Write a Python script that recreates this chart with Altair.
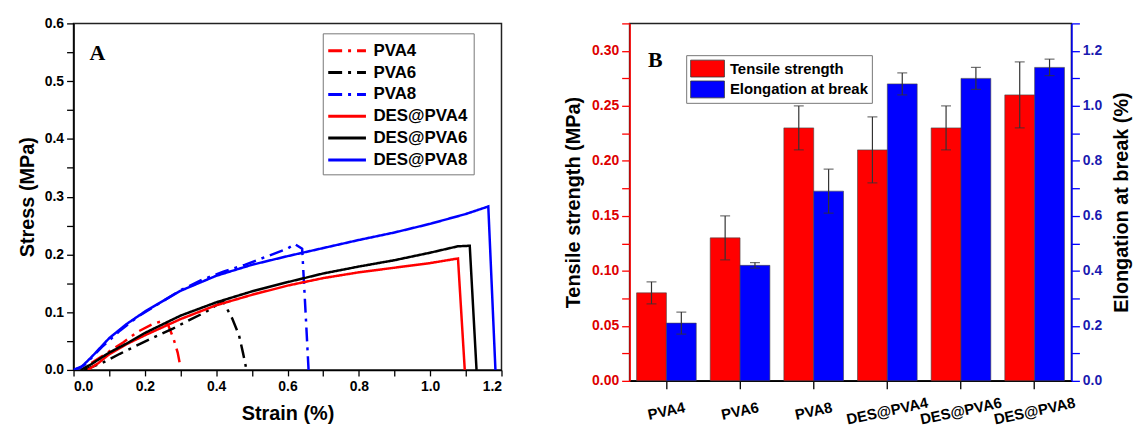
import altair as alt
import pandas as pd

# ---------------- Panel A: stress-strain curves ----------------
series_names = ["PVA4", "PVA6", "PVA8", "DES@PVA4", "DES@PVA6", "DES@PVA8"]

pva4_x = [0.05, 0.09, 0.14, 0.18, 0.22, 0.25, 0.265, 0.28, 0.292, 0.30]
pva4_y = [0.012, 0.028, 0.048, 0.066, 0.079, 0.085, 0.078, 0.055, 0.03, 0.005]

pva6_x = [0.03, 0.08, 0.13, 0.17, 0.22, 0.28, 0.33, 0.37, 0.40, 0.42, 0.445, 0.464, 0.475, 0.485]
pva6_y = [0.0, 0.012, 0.028, 0.04, 0.055, 0.072, 0.088, 0.10, 0.112, 0.118, 0.089, 0.06, 0.03, 0.0]

pva8_x = [0.0, 0.03, 0.08, 0.13, 0.18, 0.24, 0.30, 0.36, 0.42, 0.48, 0.54, 0.60, 0.62, 0.641, 0.648, 0.654, 0.659]
pva8_y = [0.0, 0.008, 0.04, 0.068, 0.092, 0.115, 0.138, 0.156, 0.17, 0.182, 0.196, 0.21, 0.218, 0.21, 0.13, 0.06, 0.0]

des4_x = [0.04, 0.07, 0.10, 0.15, 0.20, 0.30, 0.40, 0.50, 0.60, 0.70, 0.80, 0.90, 1.00, 1.078, 1.097]
des4_y = [0.0, 0.012, 0.027, 0.045, 0.06, 0.088, 0.112, 0.13, 0.146, 0.159, 0.169, 0.177, 0.185, 0.193, 0.0]

des6_x = [0.02, 0.05, 0.10, 0.15, 0.20, 0.30, 0.40, 0.50, 0.60, 0.70, 0.80, 0.90, 1.00, 1.077, 1.111, 1.13]
des6_y = [0.0, 0.01, 0.03, 0.046, 0.064, 0.094, 0.117, 0.136, 0.152, 0.167, 0.179, 0.19, 0.203, 0.214, 0.215, 0.0]

des8_x = [0.0, 0.02, 0.05, 0.10, 0.15, 0.20, 0.30, 0.40, 0.50, 0.60, 0.70, 0.80, 0.90, 1.00, 1.10, 1.163, 1.183]
des8_y = [0.0, 0.004, 0.022, 0.055, 0.08, 0.101, 0.137, 0.163, 0.182, 0.197, 0.211, 0.225, 0.238, 0.253, 0.27, 0.283, 0.0]

curves = [(series_names[0], pva4_x, pva4_y), (series_names[1], pva6_x, pva6_y),
          (series_names[2], pva8_x, pva8_y), (series_names[3], des4_x, des4_y),
          (series_names[4], des6_x, des6_y), (series_names[5], des8_x, des8_y)]
rowsA = []
for name, xs, ys in curves:
    for i, (a, b) in enumerate(zip(xs, ys)):
        rowsA.append({"series": name, "strain": a, "stress": b, "order": i})
dfA = pd.DataFrame(rowsA)

x_ticks_A = [0.0, 0.1, 0.2, 0.3, 0.4, 0.5, 0.6, 0.7, 0.8, 0.9, 1.0, 1.1, 1.2]
y_ticks_A = [0.0, 0.05, 0.1, 0.15, 0.2, 0.25, 0.3, 0.35, 0.4, 0.45, 0.5, 0.55, 0.6]

# ---------------- Panel B: bars ----------------
cats = ["PVA4", "PVA6", "PVA8", "DES@PVA4", "DES@PVA6", "DES@PVA8"]
metrics = ["Tensile strength", "Elongation at break"]
tensile = [0.08, 0.13, 0.23, 0.21, 0.23, 0.26]
tensile_err = [0.01, 0.02, 0.02, 0.03, 0.02, 0.03]
elong = [0.21, 0.42, 0.69, 1.08, 1.10, 1.14]
elong_err = [0.04, 0.01, 0.08, 0.04, 0.04, 0.03]
left_ticks_B = [0.0, 0.025, 0.05, 0.075, 0.1, 0.125, 0.15, 0.175, 0.2, 0.225, 0.25, 0.275, 0.3, 0.325]
right_ticks_B = [0.0, 0.1, 0.2, 0.3, 0.4, 0.5, 0.6, 0.7, 0.8, 0.9, 1.0, 1.1, 1.2, 1.3]

dfT = pd.DataFrame({"cat": cats, "metric": metrics[0], "value": tensile,
                    "hi": [v + e for v, e in zip(tensile, tensile_err)],
                    "lo": [v - e for v, e in zip(tensile, tensile_err)]})
dfE = pd.DataFrame({"cat": cats, "metric": metrics[1], "value": elong,
                    "hi": [v + e for v, e in zip(elong, elong_err)],
                    "lo": [v - e for v, e in zip(elong, elong_err)]})

FONT = "Liberation Sans"
RED = "#FF0000"
BLUE = "#0000FF"
BLACK = "#000000"
DASH = [14, 6, 3, 6]

# ---------- Panel A chart ----------
legA = alt.Legend(title=None, orient="none", legendX=251, legendY=10,
                  symbolType="M-1.9,0H1.9", symbolSize=400, symbolStrokeWidth=3,
                  symbolOffset=7, labelOffset=15, padding=6, rowPadding=2,
                  labelFont=FONT, labelFontSize=17, labelFontWeight="bold",
                  labelColor=BLACK, strokeColor="#777777", fillColor="white")

xA = alt.X("strain:Q", scale=alt.Scale(domain=[0, 1.2], nice=False),
           axis=alt.Axis(title="Strain (%)", values=x_ticks_A, format=".1f",
                         labelExpr="round(datum.value*10) % 2 == 0 ? format(datum.value, '.1f') : ''",
                         tickSize=6, labelPadding=4, titlePadding=10))
yA = alt.Y("stress:Q", scale=alt.Scale(domain=[0, 0.6], nice=False),
           axis=alt.Axis(title="Stress (MPa)", values=y_ticks_A, format=".1f",
                         labelExpr="round(datum.value*100) % 10 == 0 ? format(datum.value, '.1f') : ''",
                         tickSize=7, labelPadding=3, titlePadding=7))

lines = alt.Chart(dfA).mark_line(strokeWidth=2.5, clip=True).encode(
    x=xA, y=yA,
    color=alt.Color("series:N", sort=series_names,
                    scale=alt.Scale(domain=series_names, range=[RED, BLACK, BLUE, RED, BLACK, BLUE]),
                    legend=legA),
    strokeDash=alt.StrokeDash("series:N", sort=series_names,
                              scale=alt.Scale(domain=series_names,
                                              range=[DASH, DASH, DASH, [1, 0], [1, 0], [1, 0]]),
                              legend=legA),
    order="order:Q",
)
letterA = alt.Chart(pd.DataFrame({"t": ["A"]})).mark_text(
    font="Liberation Serif", fontSize=22, fontWeight="bold", align="center", baseline="middle"
).encode(x=alt.value(24), y=alt.value(30), text="t:N")

panelA = alt.layer(lines, letterA).properties(width=431, height=349)

# ---------- Panel B chart ----------
xB = alt.X("cat:N", sort=cats, scale=alt.Scale(paddingInner=0.19, paddingOuter=0.095),
           axis=alt.Axis(title=None, labelAngle=348, labelPadding=22, tickSize=8,
                         labelFontSize=15, labelAlign="center", labelBaseline="middle"))
xoffB = alt.XOffset("metric:N", sort=metrics,
                    scale=alt.Scale(domain=metrics, paddingInner=0, paddingOuter=0))
legB = alt.Legend(title=None, orient="none", legendX=57, legendY=32,
                  symbolType="M-1.7,-0.85H1.7V0.85H-1.7Z", symbolSize=400,
                  symbolStrokeColor="#333333", symbolStrokeWidth=0.8,
                  symbolOffset=8, labelOffset=12, padding=3, rowPadding=0,
                  labelFont=FONT, labelFontSize=15, labelFontWeight="bold",
                  labelColor=BLACK, strokeColor="#777777", fillColor="white")
colorB = alt.Color("metric:N", sort=metrics, scale=alt.Scale(domain=metrics, range=[RED, BLUE]),
                   legend=legB)

axisL = alt.Axis(title="Tensile strength (MPa)", orient="left", values=left_ticks_B,
                 labelExpr="round(datum.value*1000) % 50 == 0 ? format(datum.value, '.2f') : ''",
                 domainColor=RED, tickColor=RED, labelColor="#DD0000", tickSize=8,
                 labelPadding=3, titlePadding=8)
axisR = alt.Axis(title="Elongation at break (%)", orient="right", values=right_ticks_B,
                 labelExpr="round(datum.value*10) % 2 == 0 ? format(datum.value, '.1f') : ''",
                 domainColor=BLUE, tickColor=BLUE, labelColor="#1A1AB0", tickSize=8,
                 labelPadding=3, titlePadding=10, titleAngle=270, titleBaseline="top")

scaleL = alt.Scale(domain=[0, 0.325], nice=False)
scaleR = alt.Scale(domain=[0, 1.3], nice=False)


def metric_layer(df, scale, axis):
    bars = alt.Chart(df).mark_bar(stroke="#444444", strokeWidth=0.6).encode(
        x=xB, xOffset=xoffB, y=alt.Y("value:Q", scale=scale, axis=axis), color=colorB)
    rule = alt.Chart(df).mark_rule(color="#333333", strokeWidth=1.2).encode(
        x=xB, xOffset=xoffB, y=alt.Y("hi:Q", scale=scale, axis=axis), y2="lo:Q")
    cap_hi = alt.Chart(df).mark_tick(color="#333333", thickness=1.2, size=10).encode(
        x=xB, xOffset=xoffB, y=alt.Y("hi:Q", scale=scale, axis=axis))
    cap_lo = alt.Chart(df).mark_tick(color="#333333", thickness=1.2, size=10).encode(
        x=xB, xOffset=xoffB, y=alt.Y("lo:Q", scale=scale, axis=axis))
    return alt.layer(bars, rule, cap_hi, cap_lo)


tensile_layer = metric_layer(dfT, scaleL, axisL)
elong_layer = metric_layer(dfE, scaleR, axisR)

letterB = alt.Chart(pd.DataFrame({"t": ["B"]})).mark_text(
    font="Liberation Serif", fontSize=22, fontWeight="bold", align="center", baseline="middle"
).encode(x=alt.value(26), y=alt.value(37), text="t:N")

panelB = alt.layer(tensile_layer, elong_layer, letterB).resolve_scale(
    y="independent").properties(width=445, height=360)

chart = alt.hconcat(panelA, panelB, spacing=60).resolve_scale(
    color="independent", strokeDash="independent", x="independent", y="independent"
).resolve_legend(
    color="independent", strokeDash="independent"
).configure_view(
    stroke="#222222", strokeWidth=1.5
).configure_axis(
    labelFont=FONT, titleFont=FONT, labelFontWeight="bold", titleFontWeight="bold",
    labelFontSize=14, titleFontSize=20, grid=False, tickColor=BLACK, domainColor=BLACK,
    labelColor=BLACK, titleColor=BLACK, domainWidth=1.5, tickWidth=1.3
).properties(padding={"left": 8, "top": 6, "right": 2, "bottom": 2})

chart.save("out.html", embed_options={"renderer": "svg", "actions": False})
